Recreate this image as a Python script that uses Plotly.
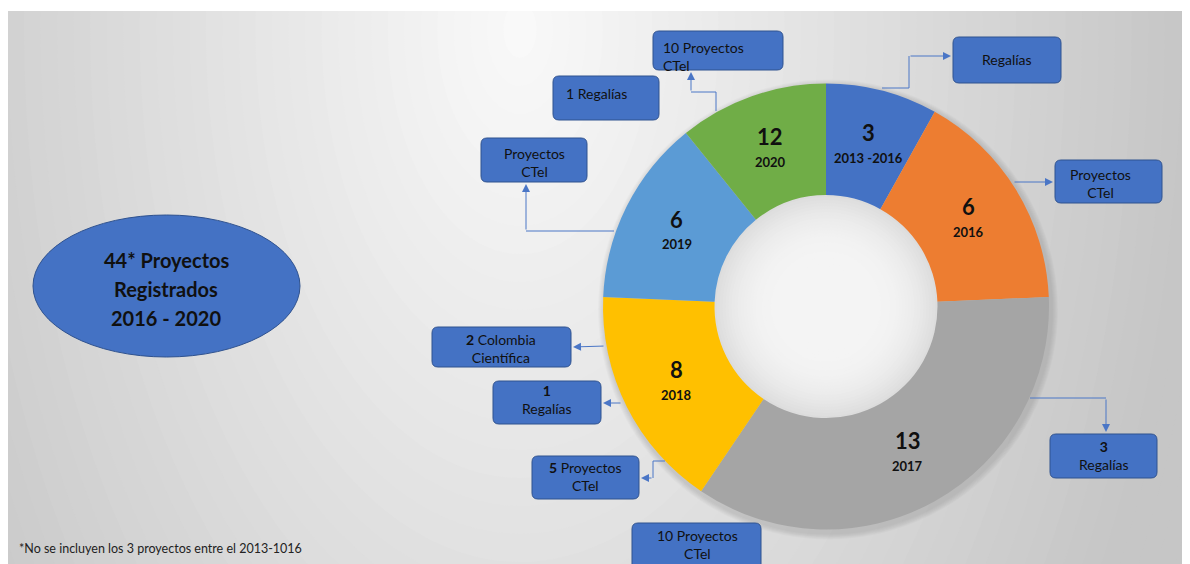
import math
import plotly.graph_objects as go

# The page body has an 8px margin, so the figure fills the window from (8, 8).
OFF = 8
W, H = 1190 - OFF, 564 - OFF

# ---------------- data ----------------
periods = ["2013 -2016", "2016", "2017", "2018", "2019", "2020"]
project_counts = [3, 6, 13, 8, 6, 12]          # numbers printed on the ring
slice_share = [3, 6, 13, 6, 5, 4]              # wedge sizes as drawn in the reference
slice_colors = ["#4472C4", "#ED7D31", "#A5A5A5", "#FFC000", "#5B9BD5", "#70AD47"]

total_lines = ["44* Proyectos", "Registrados", "2016 - 2020"]
footnote = "*No se incluyen los 3 proyectos entre el 2013-1016"

callout_texts = [
    "10 Proyectos<br>CTel",
    "1 Regalías",
    "Proyectos<br>CTel",
    "Regalías",
    "Proyectos<br>CTel",
    "<b>2</b> Colombia<br>Científica",
    "<b>1</b><br>Regalías",
    "<b>5</b> Proyectos<br>CTel",
    "10 Proyectos<br>CTel",
    "<b>3</b><br>Regalías",
]

# ---------------- layout geometry (window pixels) ----------------
CX, CY, R = 826, 306.5, 223
HOLE = 0.5
BOX_FILL, BOX_LINE = "#4472C4", "#2F528F"
ARROW = "#4A76C6"
TXT = "#101010"
FONT = "Lato"

callout_layout = [
    dict(box=(653, 31, 783, 70), tx=(661, 56, "left"), arrow=[(716, 111), (716, 92), (691, 92), (691, 72)]),
    dict(box=(553, 76, 659, 120), tx=(564, 93, "left"), arrow=None),
    dict(box=(481, 138, 587, 182), tx=(534, 162, "center"), arrow=[(614, 231), (526, 231), (526, 184)]),
    dict(box=(953, 37, 1061, 83), tx=(1007, 59, "center"), arrow=[(882, 88), (909, 88), (909, 56), (951, 56)]),
    dict(box=(1055, 160, 1162, 203), tx=(1100, 183, "center"), arrow=[(1013, 182), (1053, 182)]),
    dict(box=(432, 327, 571, 367), tx=(501, 348, "center"), arrow=[(605, 346), (573, 347)]),
    dict(box=(493, 381, 601, 424), tx=(547, 399, "center"), arrow=[(622, 403), (603, 403)]),
    dict(box=(532, 456, 639, 499), tx=(585, 476, "center"), arrow=[(665, 461), (653, 461), (653, 478), (641, 478)]),
    dict(box=(632, 523, 761, 580), tx=(697, 544, "center"), arrow=None),
    dict(box=(1050, 434, 1157, 478), tx=(1104, 455, "center"), arrow=[(1030, 398), (1106, 398), (1106, 432)]),
]

shapes = []
annotations = []

# ---------------- background gradient ----------------
N = 60
GCX, GCY, GRX, GRY, DMAX = 520, 30, 620, 1050, 1.6
for i in range(N, 0, -1):
    d = DMAX * i / N
    c = int(round(max(198, 250 - 48 * d)))
    shapes.append(dict(type="circle", xref="x", yref="y", layer="below",
                       x0=GCX - GRX * d, x1=GCX + GRX * d, y0=GCY - GRY * d, y1=GCY + GRY * d,
                       fillcolor=f"rgb({c},{c},{c})", line=dict(width=0)))
shapes.append(dict(type="rect", xref="x", yref="y", layer="below", x0=0, x1=1200, y0=0, y1=11,
                   fillcolor="white", line=dict(width=0)))

# donut soft shadow
for k in range(6):
    r = R + 7 - k
    shapes.append(dict(type="circle", xref="x", yref="y", layer="below",
                       x0=CX + 2 - r, x1=CX + 2 + r, y0=CY + 3 - r, y1=CY + 3 + r,
                       fillcolor="rgba(0,0,0,0.018)", line=dict(width=0)))

# hole shading
RIN = R * HOLE
M = 24
for k in range(M + 1):
    f = 1 - k / M * 0.65
    r = RIN * f + 1
    t = (f - 0.35) / 0.65
    c = int(round(244 - 24 * t ** 2.6))
    shapes.append(dict(type="circle", xref="x", yref="y", layer="below",
                       x0=CX - r, x1=CX + r, y0=CY - r, y1=CY + r,
                       fillcolor=f"rgb({c},{c},{c})", line=dict(width=0)))


def rrect(x0, y0, x1, y1, r=6):
    return (f"M {x0 + r},{y0} L {x1 - r},{y0} Q {x1},{y0} {x1},{y0 + r} "
            f"L {x1},{y1 - r} Q {x1},{y1} {x1 - r},{y1} L {x0 + r},{y1} "
            f"Q {x0},{y1} {x0},{y1 - r} L {x0},{y0 + r} Q {x0},{y0} {x0 + r},{y0} Z")


# ---------------- total ellipse ----------------
shapes.append(dict(type="circle", xref="x", yref="y", layer="above",
                   x0=33, x1=300, y0=215, y1=357, fillcolor=BOX_FILL,
                   line=dict(color=BOX_LINE, width=1)))
for i, line in enumerate(total_lines):
    annotations.append(dict(xref="x", yref="y", x=166, y=260 + 29 * i, text=f"<b>{line}</b>",
                            showarrow=False, xanchor="center", yanchor="middle",
                            font=dict(family=FONT, size=20, color="#101010")))

# ---------------- callouts ----------------
for text, lay in zip(callout_texts, callout_layout):
    x0, y0, x1, y1 = lay["box"]
    shapes.append(dict(type="path", xref="x", yref="y", layer="above", path=rrect(x0, y0, x1, y1),
                       fillcolor=BOX_FILL, line=dict(color=BOX_LINE, width=1)))
    tx, ty, anc = lay["tx"]
    annotations.append(dict(xref="x", yref="y", x=tx, y=ty, text=text, showarrow=False,
                            xanchor=anc, yanchor="middle", align=anc,
                            font=dict(family=FONT, size=14, color=TXT)))
    pts = lay["arrow"]
    if pts:
        if len(pts) > 2:
            p = "M " + " L ".join(f"{px},{py}" for px, py in pts[:-1])
            shapes.append(dict(type="path", xref="x", yref="y", layer="above", path=p,
                               line=dict(color=ARROW, width=1)))
        (ax_, ay_), (hx, hy) = pts[-2], pts[-1]
        annotations.append(dict(xref="x", yref="y", axref="x", ayref="y", x=hx, y=hy, ax=ax_, ay=ay_,
                                text="", showarrow=True, arrowhead=2, arrowsize=1.6, arrowwidth=1,
                                arrowcolor=ARROW, standoff=0, startstandoff=0))

# ---------------- ring labels (middle of each wedge) ----------------
tot = sum(slice_share)
cum = 0
for per, cnt, s in zip(periods, project_counts, slice_share):
    mid = (cum + s / 2) / tot * 2 * math.pi
    cum += s
    rr = R * (1 + HOLE) / 2
    lx = CX + rr * math.sin(mid)
    ly = CY - rr * math.cos(mid)
    annotations.append(dict(xref="x", yref="y", x=lx, y=ly - 12, text=f"<b>{cnt}</b>", showarrow=False,
                            font=dict(family=FONT, size=22, color=TXT)))
    annotations.append(dict(xref="x", yref="y", x=lx, y=ly + 13, text=f"<b>{per}</b>", showarrow=False,
                            font=dict(family=FONT, size=13, color=TXT)))

# footnote
annotations.append(dict(xref="x", yref="y", x=17, y=548, text=footnote, showarrow=False,
                        xanchor="left", yanchor="middle", font=dict(family=FONT, size=12.5, color="#222")))

fig = go.Figure()
fig.add_trace(go.Scatter(x=[OFF, 1190], y=[OFF, 564], mode="markers", marker=dict(opacity=0),
                         hoverinfo="skip", showlegend=False))
fig.add_trace(go.Pie(
    values=slice_share, labels=periods, marker=dict(colors=slice_colors, line=dict(width=0)),
    hole=HOLE, sort=False, direction="clockwise", rotation=0, textinfo="none",
    hoverinfo="skip", showlegend=False,
    domain=dict(x=[(CX - OFF - R) / W, (CX - OFF + R) / W],
                y=[(H - (CY - OFF) - R) / H, (H - (CY - OFF) + R) / H]),
))

fig.update_layout(
    width=W, height=H, margin=dict(l=0, r=0, t=0, b=0),
    paper_bgcolor="white", plot_bgcolor="white",
    xaxis=dict(range=[OFF, 1190], visible=False, fixedrange=True, domain=[0, 1]),
    yaxis=dict(range=[564, OFF], visible=False, fixedrange=True, domain=[0, 1]),
    shapes=shapes, annotations=annotations, showlegend=False,
)

fig.write_html("out.html")
